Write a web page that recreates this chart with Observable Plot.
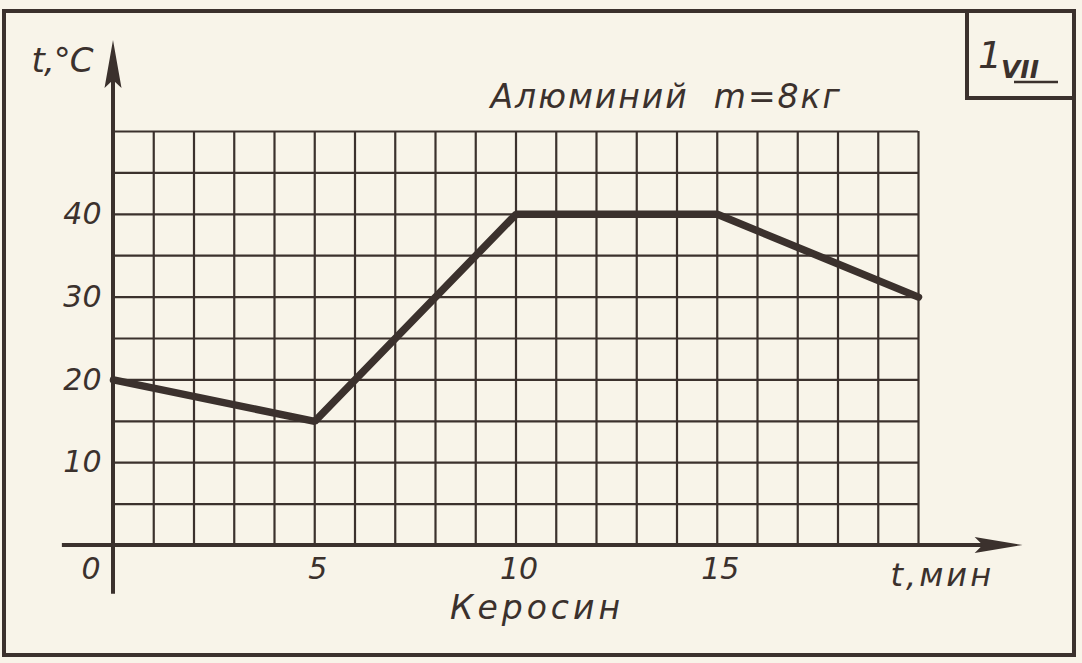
<!DOCTYPE html>
<html>
<head>
<meta charset="utf-8">
<script src="https://cdn.jsdelivr.net/npm/d3@7"></script>
<script src="https://cdn.jsdelivr.net/npm/@observablehq/plot@0.6"></script>
<style>
  html, body { margin: 0; padding: 0; background: #f8f4e9; }
  #chart svg { display: block; }
</style>
</head>
<body>
<div id="chart"></div>
<script>
// Temperature of aluminium (m = 8 kg) in kerosene over time
const minutes = [0, 5, 10, 15, 20];
const temperatures = [20, 15, 40, 40, 30];

const xTickValues = [5, 10, 15];
const yTickValues = [10, 20, 30, 40];
const gridMinutes = d3.range(1, 21, 1);
const gridTemps = d3.range(5, 51, 5);

const titleText = "Алюминий  m=8кг";
const xAxisLabel = "t,мин";
const yAxisLabel = "t,°C";
const captionText = "Керосин";
const badgeNumber = "1";
const badgeRoman = "VII";

const series = minutes.map((m, i) => ({minute: m, temp: temperatures[i]}));

const ink = "#3b312d";
const font = "DejaVu Sans, sans-serif";

// axes with filled drafting arrowheads, the sheet frame and the corner badge
function drafting(index, {x, y}, values, {width, height}) {
  const g = d3.create("svg:g").attr("fill", ink).attr("stroke", ink);
  const x0 = x(0), y0 = y(0);

  // vertical axis
  const yTip = y(61), yBottom = y(-5.9);
  g.append("line").attr("x1", x0).attr("x2", x0)
    .attr("y1", yBottom).attr("y2", yTip + 30).attr("stroke-width", 4);
  g.append("path").attr("stroke", "none")
    .attr("d", `M${x0},${yTip} L${x0 + 8.5},${yTip + 48} L${x0},${yTip + 40} L${x0 - 8.5},${yTip + 48} Z`);

  // horizontal axis
  const xTip = x(22.6), xLeft = x(-1.27);
  g.append("line").attr("y1", y0).attr("y2", y0)
    .attr("x1", xLeft).attr("x2", xTip - 30).attr("stroke-width", 4);
  g.append("path").attr("stroke", "none")
    .attr("d", `M${xTip},${y0} L${xTip - 48},${y0 - 8} L${xTip - 40},${y0} L${xTip - 48},${y0 + 8} Z`);

  // sheet frame
  g.append("rect").attr("fill", "none").attr("stroke-width", 4)
    .attr("x", 4).attr("y", 11).attr("width", width - 12).attr("height", height - 19);

  // corner badge
  const bx = width - 115, by = 11, bh = 87;
  g.append("path").attr("fill", "none").attr("stroke-width", 4)
    .attr("d", `M${bx},${by} L${bx},${by + bh} L${width - 8},${by + bh}`);
  g.append("text").attr("stroke", "none")
    .attr("x", bx + 23).attr("y", by + 57)
    .attr("font-family", font).attr("font-style", "italic").attr("font-size", 38)
    .text(badgeNumber);
  g.append("text").attr("stroke", "none")
    .attr("x", bx + 53).attr("y", by + 67)
    .attr("font-family", font).attr("font-style", "italic").attr("font-weight", "bold")
    .attr("font-size", 25)
    .text(badgeRoman);
  g.append("line").attr("stroke-width", 2.5)
    .attr("x1", bx + 47).attr("x2", bx + 91)
    .attr("y1", by + 71).attr("y2", by + 71);
  return g.node();
}

// widen the drafting-style lettering
function spaced(px) {
  return (index, scales, values, dims, context, next) => {
    const node = next(index, scales, values, dims, context);
    node.setAttribute("letter-spacing", px);
    return node;
  };
}

const textStyle = {fill: ink, fontFamily: font, fontStyle: "italic", stroke: null};

const chart = Plot.plot({
  width: 1082,
  height: 663,
  marginLeft: 113,
  marginRight: 164,
  marginTop: 131,
  marginBottom: 118,
  x: {domain: [0, 20], axis: null},
  y: {domain: [0, 50], axis: null},
  style: {background: "transparent", overflow: "visible"},
  marks: [
    // square grid: one cell per minute and per 5 °C
    Plot.ruleX(gridMinutes, {x: d => d, y1: 0, y2: 50, stroke: ink, strokeWidth: 2.2}),
    Plot.ruleY(gridTemps, {y: d => d, x1: 0, x2: 20, stroke: ink, strokeWidth: 2.2}),
    drafting,
    // temperature curve
    Plot.line(series, {x: "minute", y: "temp", stroke: ink, strokeWidth: 7.5, strokeLinejoin: "miter"}),
    // tick labels
    Plot.text(yTickValues, {x: 0, y: d => d, text: d => String(d), textAnchor: "end", dx: -12, fontSize: 30, ...textStyle}),
    Plot.text(xTickValues, {x: d => d, y: 0, text: d => String(d), dx: 3, dy: 24, fontSize: 30, ...textStyle}),
    Plot.text(["0"], {x: 0, y: 0, text: d => d, textAnchor: "end", dx: -13, dy: 24, fontSize: 30, ...textStyle}),
    // axis labels, title and caption
    Plot.text([yAxisLabel], {x: 0, y: 50, text: d => d, textAnchor: "end", dx: -21, dy: -70, fontSize: 34, ...textStyle, render: spaced(-1)}),
    Plot.text([xAxisLabel], {x: 20, y: 0, text: d => d, textAnchor: "start", dx: -28, dy: 30, fontSize: 32, ...textStyle, render: spaced(3)}),
    Plot.text([captionText], {x: 10, y: 0, text: d => d, dx: 21, dy: 63, fontSize: 33, ...textStyle, render: spaced(4)}),
    Plot.text([titleText], {x: 0, y: 50, text: d => d, textAnchor: "start", dx: 377, dy: -34, fontSize: 33, ...textStyle, render: spaced(2)})
  ]
});

document.getElementById("chart").append(chart);
</script>
</body>
</html>
